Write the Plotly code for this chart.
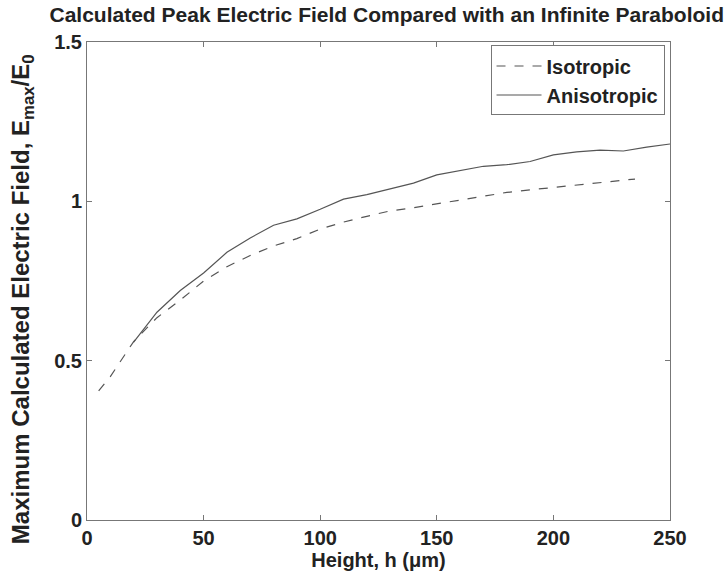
import plotly.graph_objects as go

iso_x = [5, 10, 20, 30, 40, 50, 60, 70, 80, 90, 100, 110, 120, 130, 140, 150, 160, 170, 180, 190, 200, 210, 220, 230, 235]
iso_y = [0.405, 0.45, 0.56, 0.635, 0.69, 0.75, 0.795, 0.83, 0.86, 0.883, 0.913, 0.935, 0.953, 0.97, 0.98, 0.992, 1.003, 1.017, 1.028, 1.036, 1.044, 1.052, 1.06, 1.067, 1.07]

ani_x = [20, 30, 40, 50, 60, 70, 80, 90, 100, 110, 120, 130, 140, 150, 160, 170, 180, 190, 200, 210, 220, 230, 240, 250]
ani_y = [0.558, 0.652, 0.72, 0.775, 0.84, 0.885, 0.925, 0.945, 0.975, 1.007, 1.021, 1.04, 1.057, 1.083, 1.097, 1.11, 1.115, 1.125, 1.146, 1.155, 1.161, 1.158, 1.17, 1.18]

x_ticks = [0, 50, 100, 150, 200, 250]
y_ticks = [0, 0.5, 1, 1.5]
y_tick_text = ["0", "0.5", "1", "1.5"]

FONT = "Liberation Sans, Arial, sans-serif"
TXT = "#222222"
LINE = "#555555"
AX = "#777777"

fig = go.Figure()
fig.add_trace(go.Scatter(x=iso_x, y=iso_y, mode="lines", name="Isotropic",
                         line=dict(color=LINE, width=1.2, dash="dash")))
fig.add_trace(go.Scatter(x=ani_x, y=ani_y, mode="lines", name="Anisotropic",
                         line=dict(color=LINE, width=1.2)))

axis_common = dict(showgrid=False, zeroline=False, showline=True, linecolor=AX,
                   linewidth=1, mirror="allticks", ticks="inside", ticklen=5,
                   tickcolor=AX, tickfont=dict(family=FONT, size=20, color=TXT, weight="bold"))

fig.update_xaxes(range=[0, 250], tickvals=x_ticks, ticktext=[str(v) for v in x_ticks],
                 title=dict(text="Height, h (μm)",
                            font=dict(family=FONT, size=20, color=TXT, weight="bold"), standoff=2),
                 **axis_common)
fig.update_yaxes(range=[0, 1.5], tickvals=y_ticks, ticktext=y_tick_text, **axis_common)

fig.add_annotation(text="Maximum Calculated Electric Field, E<sub>max</sub>/E<sub>0</sub>",
                   xref="paper", yref="paper", x=0, y=0.462, xanchor="center", yanchor="middle",
                   xshift=-65, textangle=-90, showarrow=False,
                   font=dict(family=FONT, size=24, color=TXT, weight="bold"))

fig.update_layout(
    width=727, height=577,
    margin=dict(l=87, r=57, t=42, b=55),
    paper_bgcolor="white", plot_bgcolor="white",
    font=dict(family=FONT, color=TXT),
    title=dict(text="Calculated Peak Electric Field Compared with an Infinite Paraboloid",
               font=dict(family=FONT, size=21, color=TXT, weight="bold"),
               x=0.532, xanchor="center", y=0.975, yanchor="middle"),
    legend=dict(x=0.9906, xanchor="right", y=0.9927, yanchor="top",
                bordercolor=AX, borderwidth=1, bgcolor="white",
                font=dict(family=FONT, size=20, color=TXT, weight="bold"),
                itemwidth=45, tracegroupgap=0),
    showlegend=True,
)

fig.write_html("out.html")
